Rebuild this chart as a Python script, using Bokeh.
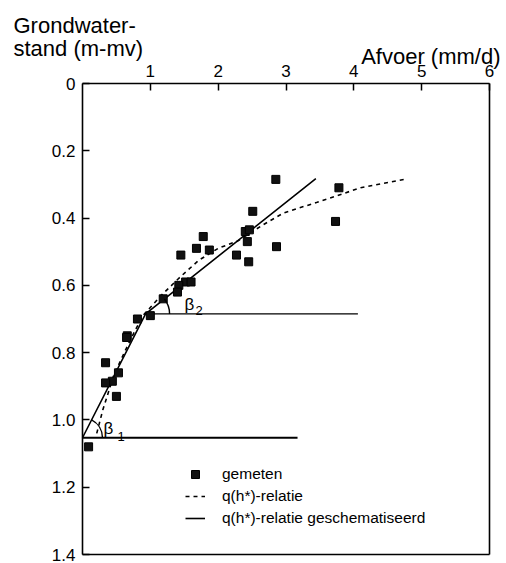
import math
from bokeh.plotting import figure
from bokeh.models import (Range1d, FixedTicker, Label, Legend, LegendItem,
                          CustomJSTickFormatter, LinearAxis)
from bokeh.embed import file_html
from bokeh.resources import INLINE

# ---------------- data ----------------
# measured points: afvoer q (mm/d), grondwaterstand h (m-mv)
meas_q = [2.85, 3.78, 3.73, 2.51, 2.40, 2.46, 2.43, 2.86, 1.78, 1.68, 1.87,
          1.45, 2.27, 2.45, 1.52, 1.60, 1.42, 1.40, 1.19, 1.00, 0.81, 0.66,
          0.65, 0.34, 0.53, 0.44, 0.34, 0.50, 0.09]
meas_h = [0.285, 0.31, 0.41, 0.38, 0.44, 0.435, 0.47, 0.485, 0.455, 0.49, 0.495,
          0.51, 0.51, 0.53, 0.59, 0.59, 0.60, 0.62, 0.64, 0.69, 0.70, 0.75,
          0.755, 0.83, 0.86, 0.885, 0.89, 0.93, 1.08]

# q(h*)-relatie (dashed curve)
rel_q = [0.21, 0.30, 0.46, 0.63, 0.78, 0.90, 1.15, 1.42, 1.71, 2.00, 2.29,
         2.63, 2.96, 3.46, 4.10, 4.79]
rel_h = [1.04, 0.97, 0.868, 0.794, 0.732, 0.688, 0.632, 0.579, 0.526, 0.49,
         0.468, 0.424, 0.385, 0.353, 0.31, 0.283]

# q(h*)-relatie geschematiseerd (solid broken line)
schema_q = [0.0, 0.93, 3.44]
schema_h = [1.053, 0.685, 0.283]

# horizontal reference lines for the angles
hor1_q = [0.0, 3.17]
hor1_h = [1.053, 1.053]
hor2_q = [0.93, 4.06]
hor2_h = [0.685, 0.685]

x_ticks = [1, 2, 3, 4, 5, 6]
y_ticks = [0, 0.2, 0.4, 0.6, 0.8, 1.0, 1.2, 1.4]
XMAX, YMAX = 6.0, 1.4

# ---------------- layout (canvas pixels) ----------------
# The frame fills the whole canvas; the axes are pinned (fixed_location)
# to the data box so that all texts lie inside the frame.
W, H = 506, 563
BX0, BX1 = 82, 489      # data box left/right on canvas
BY0, BY1 = 83, 554      # data box top/bottom on canvas
PXU = (BX1 - BX0) / XMAX
PYU = (BY1 - BY0) / YMAX

x_range = Range1d(-BX0 / PXU, XMAX + (W - BX1) / PXU)
y_range = Range1d(YMAX + (H - BY1) / PYU, -BY0 / PYU)

FONT = "Liberation Sans"

p = figure(width=W, height=H, output_backend="svg", toolbar_location=None,
           x_range=x_range, y_range=y_range, x_axis_location="above",
           min_border=0, title_location=None)
p.grid.visible = False
p.outline_line_color = None
p.background_fill_color = "white"
p.border_fill_color = "white"

ax = p.xaxis[0]
ax.ticker = FixedTicker(ticks=x_ticks)
ax.fixed_location = 0
ax.bounds = (0, XMAX)
ay = p.yaxis[0]
ay.ticker = FixedTicker(ticks=y_ticks)
ay.fixed_location = 0
ay.bounds = (0, YMAX)
ay.formatter = CustomJSTickFormatter(code="return tick == 0 ? '0' : tick.toFixed(1);")

# closing sides of the box
ax_bottom = LinearAxis(ticker=FixedTicker(ticks=[]), fixed_location=YMAX, bounds=(0, XMAX))
ay_right = LinearAxis(ticker=FixedTicker(ticks=[]), fixed_location=XMAX, bounds=(0, YMAX))
p.add_layout(ax_bottom, "below")
p.add_layout(ay_right, "right")

for a in (ax, ay, ax_bottom, ay_right):
    a.axis_line_color = "black"
    a.axis_line_width = 1.6
    a.major_tick_in = 7
    a.major_tick_out = 0
    a.major_tick_line_width = 1.5
    a.minor_tick_line_color = None
    a.major_label_text_font = FONT
    a.major_label_text_font_size = "17px"
    a.major_label_text_color = "black"
    a.major_label_standoff = 7

# lines
p.line(hor1_q, hor1_h, line_color="black", line_width=2)
p.line(hor2_q, hor2_h, line_color="black", line_width=1.3)
r_rel = p.line(rel_q, rel_h, line_color="black", line_width=1.6, line_dash="4 4")
r_sch = p.line(schema_q, schema_h, line_color="black", line_width=1.6)
r_pts = p.scatter(meas_q, meas_h, marker="square", size=8,
                  fill_color="#111111", line_color="black")

# angle arcs
ang1 = math.atan2((schema_h[0] - schema_h[1]) * PYU, (schema_q[1] - schema_q[0]) * PXU)
ang2 = math.atan2((schema_h[1] - schema_h[2]) * PYU, (schema_q[2] - schema_q[1]) * PXU)
p.arc(x=[schema_q[0]], y=[schema_h[0]], radius=20, radius_units="screen",
      start_angle=0, end_angle=ang1, line_color="black", line_width=1.4)
p.arc(x=[schema_q[1]], y=[schema_h[1]], radius=24, radius_units="screen",
      start_angle=0, end_angle=ang2, line_color="black", line_width=1.4)


def add_label(txt, px, py, size, align="left"):
    # screen units: x from frame (canvas) left, y upwards from frame bottom
    p.add_layout(Label(x=px, y=H - py, x_units="screen", y_units="screen",
                       text=txt, text_font=FONT, text_font_size=size,
                       text_baseline="alphabetic", text_align=align,
                       text_color="black"))


# beta labels
add_label("β", 103, 428, "17px")
add_label("1", 117, 436, "13px")
add_label("β", 184, 304, "17px")
add_label("2", 195, 310, "13px")

# axis titles
add_label("Grondwater-", 13, 25, "22px")
add_label("stand (m-mv)", 13, 48, "22px")
add_label("Afvoer (mm/d)", 500, 56, "22px", align="right")

legend = Legend(items=[LegendItem(label="gemeten", renderers=[r_pts]),
                       LegendItem(label="q(h*)-relatie", renderers=[r_rel]),
                       LegendItem(label="q(h*)-relatie geschematiseerd", renderers=[r_sch])],
                location=(185, H - 528), border_line_color=None,
                background_fill_alpha=0, padding=0, margin=0, spacing=2,
                glyph_width=20, glyph_height=20, label_height=20,
                label_standoff=17, label_text_font=FONT,
                label_text_font_size="15.5px", label_text_color="black")
p.add_layout(legend)

open("out.html", "w").write(file_html(p, INLINE))
